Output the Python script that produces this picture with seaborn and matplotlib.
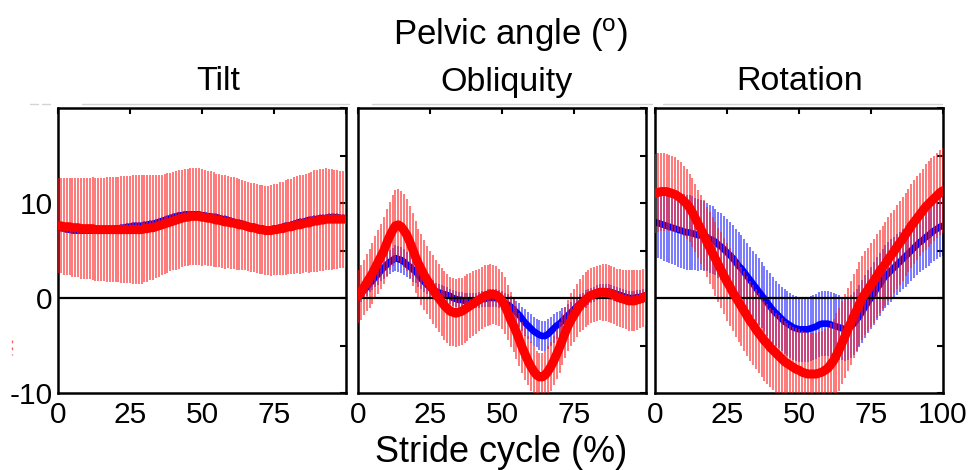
import numpy as np
import matplotlib
matplotlib.use("Agg")
import matplotlib.pyplot as plt
import seaborn as sns
from matplotlib.lines import Line2D

# ---------------- data (stride cycle 0..100 %) ----------------
stride = list(range(101))
panels = ["Tilt", "Obliquity", "Rotation"]

tilt_red_mean = [7.6,7.6,7.5,7.5,7.5,7.4,7.4,7.4,7.3,7.3,
    7.3,7.3,7.3,7.2,7.2,7.2,7.2,7.2,7.2,7.2,
    7.2,7.2,7.2,7.2,7.2,7.2,7.2,7.2,7.2,7.2,
    7.3,7.3,7.4,7.4,7.5,7.6,7.7,7.8,7.9,8.0,
    8.1,8.2,8.3,8.4,8.5,8.5,8.6,8.6,8.6,8.6,
    8.5,8.5,8.4,8.4,8.3,8.2,8.2,8.1,8.0,8.0,
    7.9,7.9,7.8,7.7,7.7,7.6,7.5,7.4,7.4,7.3,
    7.2,7.2,7.1,7.1,7.1,7.2,7.2,7.3,7.3,7.4,
    7.5,7.5,7.6,7.7,7.7,7.8,7.9,7.9,8.0,8.1,
    8.1,8.2,8.2,8.3,8.3,8.3,8.3,8.3,8.3,8.3,8.3]
tilt_red_sd = [5.0,5.0,5.1,5.1,5.1,5.2,5.2,5.2,5.3,5.3,
    5.3,5.3,5.4,5.4,5.4,5.4,5.4,5.5,5.5,5.5,
    5.5,5.5,5.6,5.6,5.6,5.6,5.7,5.7,5.7,5.7,
    5.6,5.6,5.5,5.5,5.4,5.4,5.3,5.3,5.3,5.2,
    5.2,5.2,5.2,5.1,5.1,5.1,5.1,5.1,5.1,5.1,
    5.1,5.0,5.0,5.0,5.0,4.9,4.9,4.9,4.9,4.8,
    4.8,4.8,4.8,4.8,4.7,4.7,4.7,4.7,4.7,4.7,
    4.7,4.7,4.7,4.7,4.8,4.8,4.8,4.9,4.9,5.0,
    5.0,5.0,5.1,5.1,5.2,5.2,5.2,5.3,5.3,5.4,
    5.4,5.4,5.4,5.4,5.3,5.3,5.2,5.2,5.1,5.1,5.0]
tilt_blue_mean = [7.5,7.4,7.3,7.2,7.2,7.1,7.1,7.1,7.1,7.1,
    7.1,7.1,7.1,7.1,7.1,7.1,7.1,7.2,7.2,7.2,
    7.3,7.3,7.4,7.4,7.5,7.5,7.6,7.6,7.6,7.6,
    7.7,7.7,7.8,7.8,7.9,8.0,8.1,8.2,8.3,8.4,
    8.5,8.6,8.7,8.7,8.8,8.8,8.8,8.8,8.8,8.8,
    8.7,8.7,8.6,8.6,8.5,8.5,8.4,8.3,8.3,8.2,
    8.1,8.0,7.9,7.9,7.8,7.7,7.6,7.5,7.5,7.4,
    7.3,7.3,7.2,7.2,7.2,7.3,7.3,7.4,7.5,7.6,
    7.6,7.7,7.8,7.9,8.0,8.0,8.1,8.2,8.2,8.3,
    8.3,8.4,8.4,8.4,8.5,8.5,8.5,8.5,8.4,8.4,8.4]
tilt_blue_sd = [0.4,0.4,0.4,0.4,0.4,0.4,0.4,0.4,0.4,0.4,
    0.4,0.4,0.4,0.4,0.4,0.4,0.4,0.4,0.4,0.4,
    0.4,0.4,0.4,0.4,0.4,0.4,0.4,0.4,0.4,0.4,
    0.4,0.4,0.4,0.4,0.4,0.4,0.4,0.4,0.4,0.4,
    0.4,0.4,0.4,0.4,0.4,0.4,0.4,0.4,0.4,0.4,
    0.4,0.4,0.4,0.4,0.4,0.4,0.4,0.4,0.4,0.4,
    0.4,0.4,0.4,0.4,0.4,0.4,0.4,0.4,0.4,0.4,
    0.4,0.4,0.4,0.4,0.4,0.4,0.4,0.4,0.4,0.4,
    0.4,0.4,0.4,0.4,0.4,0.4,0.4,0.4,0.4,0.4,
    0.4,0.4,0.4,0.4,0.4,0.4,0.4,0.4,0.4,0.4,0.4]

obl_red_mean = [0.2,0.6,1.1,1.6,2.1,2.6,3.2,3.8,4.4,5.0,
    5.8,6.5,7.1,7.6,7.7,7.5,7.1,6.6,5.9,5.1,
    4.3,3.6,3.0,2.4,1.9,1.4,0.9,0.4,0.0,-0.4,
    -0.8,-1.1,-1.4,-1.5,-1.6,-1.5,-1.4,-1.2,-1.0,-0.8,
    -0.6,-0.4,-0.2,0.0,0.2,0.3,0.4,0.4,0.3,0.1,
    -0.3,-0.8,-1.5,-2.3,-2.9,-3.6,-4.4,-5.2,-5.9,-6.6,
    -7.2,-7.7,-8.1,-8.3,-8.3,-8.1,-7.7,-7.2,-6.6,-5.9,
    -5.2,-4.4,-3.6,-2.9,-2.3,-1.8,-1.3,-0.8,-0.5,-0.2,
    0.1,0.3,0.4,0.5,0.6,0.6,0.6,0.5,0.4,0.3,
    0.1,0.0,-0.1,-0.2,-0.3,-0.3,-0.3,-0.2,-0.1,0.0,0.2]
obl_red_sd = [2.8,2.9,2.9,3.0,3.1,3.2,3.3,3.4,3.4,3.5,
    3.6,3.6,3.7,3.8,3.8,3.8,3.8,3.8,3.8,3.8,
    3.8,3.7,3.7,3.7,3.6,3.6,3.6,3.6,3.6,3.6,
    3.6,3.6,3.6,3.6,3.6,3.6,3.5,3.5,3.5,3.4,
    3.4,3.4,3.3,3.3,3.3,3.2,3.2,3.1,3.1,3.0,
    3.0,3.0,2.9,2.9,2.8,2.8,2.8,2.7,2.7,2.6,
    2.6,2.6,2.5,2.5,2.5,2.5,2.6,2.6,2.6,2.6,
    2.7,2.7,2.7,2.7,2.8,2.8,2.8,2.8,2.9,2.9,
    2.9,2.9,2.9,2.9,2.9,3.0,3.0,3.0,3.0,3.0,
    3.0,3.1,3.1,3.1,3.2,3.2,3.2,3.2,3.1,3.1,3.0]
obl_blue_mean = [0.1,0.4,0.8,1.1,1.5,1.8,2.2,2.5,2.9,3.2,
    3.5,3.8,4.0,4.2,4.1,4.0,3.8,3.5,3.3,3.0,
    2.8,2.4,2.0,1.7,1.4,1.1,0.9,0.7,0.6,0.5,
    0.4,0.3,0.2,0.0,-0.1,-0.2,-0.2,-0.3,-0.3,-0.3,
    -0.3,-0.3,-0.2,-0.1,-0.1,0.0,0.0,0.0,0.0,-0.1,
    -0.3,-0.5,-0.7,-0.9,-1.2,-1.5,-1.8,-2.2,-2.6,-2.9,
    -3.2,-3.5,-3.7,-3.9,-4.0,-4.0,-3.8,-3.5,-3.2,-2.9,
    -2.7,-2.4,-2.1,-1.8,-1.5,-1.2,-0.9,-0.6,-0.4,-0.1,
    0.1,0.3,0.4,0.6,0.7,0.7,0.7,0.7,0.6,0.5,
    0.4,0.3,0.2,0.1,0.0,0.0,0.0,0.1,0.1,0.2,0.3]
obl_blue_sd = [0.8,0.8,0.9,0.9,0.9,1.0,1.0,1.1,1.1,1.2,
    1.2,1.3,1.3,1.4,1.4,1.4,1.4,1.3,1.3,1.3,
    1.2,1.2,1.1,1.1,1.0,1.0,1.0,0.9,0.9,0.9,
    0.9,0.9,0.8,0.8,0.8,0.8,0.8,0.8,0.8,0.8,
    0.8,0.8,0.8,0.8,0.8,0.9,0.9,0.9,0.9,0.9,
    1.0,1.0,1.1,1.1,1.2,1.2,1.3,1.3,1.4,1.4,
    1.5,1.5,1.5,1.6,1.6,1.6,1.6,1.5,1.5,1.4,
    1.3,1.3,1.2,1.2,1.1,1.1,1.0,1.0,0.9,0.9,
    0.8,0.8,0.8,0.8,0.8,0.8,0.8,0.8,0.8,0.8,
    0.8,0.8,0.7,0.7,0.7,0.7,0.7,0.7,0.7,0.7,0.7]

rot_red_mean = [11.0,11.1,11.2,11.2,11.2,11.1,11.0,10.9,10.7,10.5,
    10.2,9.9,9.5,9.0,8.4,7.8,7.2,6.6,5.9,5.3,
    4.7,4.1,3.5,2.9,2.3,1.7,1.2,0.6,0.1,-0.4,
    -0.9,-1.4,-1.9,-2.4,-2.8,-3.3,-3.7,-4.1,-4.5,-4.8,
    -5.2,-5.5,-5.8,-6.1,-6.4,-6.7,-6.9,-7.1,-7.3,-7.5,
    -7.6,-7.8,-7.9,-8.0,-8.0,-8.0,-8.0,-7.9,-7.8,-7.6,
    -7.4,-7.0,-6.6,-6.0,-5.4,-4.7,-4.0,-3.3,-2.6,-1.9,
    -1.3,-0.6,0.0,0.5,0.9,1.4,1.8,2.3,2.8,3.2,
    3.6,4.1,4.5,4.9,5.4,5.8,6.2,6.7,7.1,7.6,
    8.0,8.4,8.8,9.2,9.6,9.9,10.2,10.5,10.8,11.1,11.3]
rot_red_sd = [4.2,4.2,4.1,4.1,4.0,4.0,3.9,3.9,3.8,3.8,
    3.7,3.7,3.6,3.6,3.6,3.6,3.6,3.7,3.7,3.8,
    3.8,3.9,3.9,4.0,4.0,4.1,4.1,4.1,4.2,4.2,
    4.2,4.2,4.2,4.2,4.2,4.2,4.2,4.2,4.2,4.2,
    4.2,4.2,4.2,4.3,4.3,4.3,4.3,4.3,4.3,4.3,
    4.3,4.3,4.3,4.3,4.3,4.3,4.3,4.3,4.3,4.3,
    4.4,4.4,4.4,4.4,4.4,4.4,4.4,4.4,4.4,4.4,
    4.4,4.4,4.4,4.4,4.4,4.4,4.4,4.4,4.4,4.4,
    4.4,4.4,4.4,4.4,4.4,4.4,4.4,4.4,4.4,4.4,
    4.4,4.4,4.4,4.4,4.5,4.5,4.5,4.5,4.5,4.5,4.5]
rot_blue_mean = [8.0,7.9,7.8,7.7,7.6,7.5,7.4,7.3,7.2,7.1,
    7.0,6.9,6.9,6.8,6.7,6.6,6.6,6.5,6.4,6.2,
    6.1,5.9,5.6,5.4,5.1,4.8,4.5,4.2,3.8,3.4,
    3.1,2.7,2.3,1.9,1.5,1.1,0.7,0.3,-0.1,-0.5,
    -0.9,-1.3,-1.6,-1.9,-2.2,-2.5,-2.7,-2.9,-3.1,-3.2,
    -3.3,-3.3,-3.3,-3.3,-3.2,-3.1,-3.0,-2.8,-2.7,-2.7,
    -2.7,-2.8,-2.9,-3.0,-3.1,-3.2,-3.3,-3.2,-3.0,-2.7,
    -2.3,-1.9,-1.4,-0.9,-0.4,0.0,0.5,1.0,1.4,1.9,
    2.3,2.6,2.9,3.2,3.5,3.8,4.1,4.4,4.7,5.0,
    5.3,5.6,5.9,6.1,6.4,6.6,6.9,7.1,7.3,7.5,7.6]
rot_blue_sd = [3.7,3.7,3.7,3.8,3.8,3.8,3.8,3.8,3.9,3.9,
    3.9,3.9,3.9,3.9,3.8,3.8,3.7,3.7,3.6,3.6,
    3.6,3.5,3.5,3.5,3.5,3.5,3.5,3.5,3.5,3.5,
    3.5,3.5,3.5,3.5,3.5,3.5,3.5,3.5,3.5,3.5,
    3.5,3.5,3.4,3.4,3.4,3.4,3.4,3.4,3.4,3.4,
    3.4,3.4,3.4,3.4,3.4,3.4,3.4,3.4,3.4,3.4,
    3.4,3.4,3.4,3.4,3.4,3.3,3.3,3.3,3.3,3.3,
    3.3,3.3,3.3,3.3,3.3,3.3,3.3,3.3,3.3,3.3,
    3.3,3.3,3.3,3.2,3.2,3.2,3.2,3.2,3.2,3.2,
    3.2,3.2,3.2,3.2,3.2,3.2,3.2,3.2,3.2,3.2,3.2]

x_ticks = [0, 25, 50, 75, 100]
x_ticklabels_inner = ["0", "25", "50", "75", ""]
x_ticklabels_last = ["0", "25", "50", "75", "100"]
y_ticks = [-10, -5, 0, 5, 10, 15, 20]
y_ticklabels = ["-10", "", "0", "", "10", "", ""]

# ---------------- style ----------------
sns.set_style("white")
plt.rcParams["font.family"] = ["Liberation Sans", "DejaVu Sans"]
plt.rcParams["text.color"] = "black"
plt.rcParams["mathtext.fontset"] = "custom"
plt.rcParams["mathtext.rm"] = "Liberation Sans"
plt.rcParams["mathtext.it"] = "Liberation Sans:italic"

W, H = 971, 470
fig = plt.figure(figsize=(W / 100, H / 100), dpi=100)
fig.patch.set_facecolor("white")

def fx(px):
    return px / W

def fy(py):
    return 1 - py / H

axes_left_px = [58, 358, 655]
ax_w_px = 288
ax_top_px, ax_bot_px = 108, 393

series = [
    (tilt_blue_mean, tilt_blue_sd, tilt_red_mean, tilt_red_sd),
    (obl_blue_mean, obl_blue_sd, obl_red_mean, obl_red_sd),
    (rot_blue_mean, rot_blue_sd, rot_red_mean, rot_red_sd),
]
title_x_px = [218, 507, 800]

x = np.array(stride)
for i, (bm, bs, rm, rs) in enumerate(series):
    ax = fig.add_axes([fx(axes_left_px[i]), fy(ax_bot_px),
                       ax_w_px / W, (ax_bot_px - ax_top_px) / H])
    bm, bs, rm, rs = map(np.array, (bm, bs, rm, rs))
    # blue error bars and mean
    ax.vlines(x, bm - bs, bm + bs, color="#1f1fff", alpha=0.6,
              linewidth=1.4, zorder=1)
    sns.lineplot(x=x, y=bm, ax=ax, color="#0000ff", linewidth=4.8,
                 zorder=2, legend=False)
    # red error bars
    ax.vlines(x, rm - rs, rm + rs, color="#ff1f1f", alpha=0.6,
              linewidth=1.4, zorder=3)
    ax.axhline(0, color="black", linewidth=1.6, zorder=4)
    sns.lineplot(x=x, y=rm, ax=ax, color="#ff0000", linewidth=6.5,
                 zorder=5, legend=False)

    ax.set_xlim(0, 100)
    ax.set_ylim(-10, 20)
    ax.set_xticks(x_ticks)
    ax.set_xticklabels(x_ticklabels_last if i == 2 else x_ticklabels_inner)
    ax.set_yticks(y_ticks)
    if i == 0:
        ax.set_yticklabels(y_ticklabels)
    else:
        ax.set_yticklabels([""] * len(y_ticks))
    ax.tick_params(axis="both", direction="in", length=4, width=1.5,
                   top=True, right=True, labelsize=21.5, colors="black",
                   labelcolor="black")
    ax.tick_params(axis="x", pad=6)
    ax.tick_params(axis="y", pad=4)
    ax.set_xlabel("")
    ax.set_ylabel("")
    for sp in ax.spines.values():
        sp.set_visible(True)
        sp.set_color("black")
        sp.set_linewidth(1.8)
    fig.text(fx(title_x_px[i]), fy(82), panels[i], ha="center",
             va="center", fontsize=24.5, color="black")

# thin gray rules above panels (as in the source graphic)
for x0, x1 in [(82, 349), (372, 652), (663, 942), (30, 38), (42, 50)]:
    fig.add_artist(Line2D([fx(x0), fx(x1)], [fy(103.5), fy(103.5)],
                          color="#d4d4d4", linewidth=1.0))
fig.add_artist(Line2D([fx(12), fx(12)], [fy(340), fy(355)],
                      color="#ff6060", linewidth=1.0, linestyle=(0, (2, 3))))

fig.text(fx(510), fy(35), "Pelvic angle ($^{\\mathrm{o}}$)", ha="center",
         va="center", fontsize=25, color="black")
fig.text(fx(501), fy(452), "Stride cycle (%)", ha="center", va="center",
         fontsize=26, color="black")

fig.savefig("out.png", dpi=100, facecolor="white")
